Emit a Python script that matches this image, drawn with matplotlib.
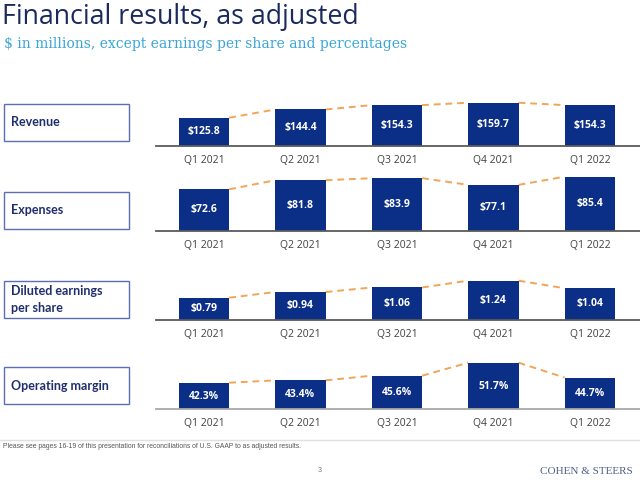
import matplotlib
matplotlib.use("Agg")
import matplotlib.pyplot as plt
import matplotlib.patches as mpatches

# chart data
quarters = ['Q1 2021', 'Q2 2021', 'Q3 2021', 'Q4 2021', 'Q1 2022']
revenue = [125.8, 144.4, 154.3, 159.7, 154.3]
expenses = [72.6, 81.8, 83.9, 77.1, 85.4]
eps = [0.79, 0.94, 1.06, 1.24, 1.04]
op_margin = [42.3, 43.4, 45.6, 51.7, 44.7]

row_names = ['Revenue', 'Expenses', 'Diluted earnings\nper share', 'Operating margin']
row_values = [revenue, expenses, eps, op_margin]
row_formats = ['${:.1f}', '${:.1f}', '${:.2f}', '{:.1f}%']

NAVY = '#0b2e86'
ORANGE = '#f0a558'
W, H = 640, 487

# layout per row (pixels): baseline y, y-axis floor, y-axis span over 60 px
row_baseline = [145.7, 230.7, 319.7, 409.3]
row_floor = [62.5, 30.5, 0.208, 29.8]
row_span = [135.7, 61.0, 1.587, 28.2]
row_box_top = [104, 192, 281, 367]
row_axis_color = ['#5a5a5a', '#5a5a5a', '#5a5a5a', '#a8a8a8']

fig = plt.figure(figsize=(W / 100, H / 100), dpi=100)

def fx(px):
    return px / W

def fy(py):
    return 1 - py / H

# title block
fig.text(fx(2), fy(17), 'Financial results, as adjusted', fontsize=19.3,
         family='Open Sans', color='#1b2a5c', va='center', ha='left')
fig.text(fx(4), fy(44), '$ in millions, except earnings per share and percentages',
         fontsize=10.0, family='DejaVu Serif', color='#3aa6d6', va='center', ha='left')

bar_w = 0.523
for k in range(4):
    vals = row_values[k]
    base = row_baseline[k]
    ax = fig.add_axes([fx(156), fy(base), fx(484), 60 / H])
    lo = row_floor[k]
    x = range(len(quarters))
    ax.bar(x, vals, width=bar_w, color=NAVY, zorder=2)
    for i, v in enumerate(vals):
        ax.text(i, (lo + v) / 2, row_formats[k].format(v), ha='center', va='center',
                color='white', fontsize=7.5, fontweight='bold', family='Open Sans', zorder=3)
    for i in range(len(vals) - 1):
        ax.plot([i + bar_w / 2, i + 1 - bar_w / 2], [vals[i], vals[i + 1]],
                color=ORANGE, lw=1.4, ls=(0, (3.5, 2.5)), zorder=1, clip_on=False)
    ax.set_xlim(-0.497, 4.52)
    ax.set_ylim(lo, lo + row_span[k])
    for s in ['top', 'left', 'right']:
        ax.spines[s].set_visible(False)
    ax.spines['bottom'].set_color(row_axis_color[k])
    ax.spines['bottom'].set_linewidth(1.3)
    ax.set_yticks([])
    ax.set_xticks(list(x))
    ax.set_xticklabels(quarters, fontsize=7.5, family='Open Sans', color='#404040')
    ax.tick_params(axis='x', length=0, pad=6.5)
    ax.patch.set_alpha(0)

    # label box on the left
    top = row_box_top[k]
    fig.patches.append(mpatches.Rectangle((fx(3.5), fy(top + 37)), fx(125), 37 / H,
                                          transform=fig.transFigure, fill=False,
                                          edgecolor='#5b6fb2', lw=1.0))
    fig.text(fx(11), fy(top + 18.5), row_names[k], fontsize=9, fontweight='bold',
             family='Lato', color='#1f2f6e', va='center', ha='left', linespacing=1.45)

# footer
fig.add_artist(plt.Line2D([0, 1], [fy(440), fy(440)], transform=fig.transFigure,
                          color='#e0e0e0', lw=1))
fig.text(fx(3), fy(447), 'Please see pages 16-19 of this presentation for reconciliations of U.S. GAAP to as adjusted results.',
         fontsize=4.85, family='Liberation Sans', color='#555555', va='center', ha='left')
fig.text(fx(320), fy(471), '3', fontsize=5, family='Liberation Sans', color='#777777',
         va='center', ha='center')
fig.text(fx(633), fy(471), 'COHEN & STEERS', fontsize=8, family='Liberation Serif',
         color='#4f5f82', va='center', ha='right')

fig.savefig('out.png', dpi=100)
